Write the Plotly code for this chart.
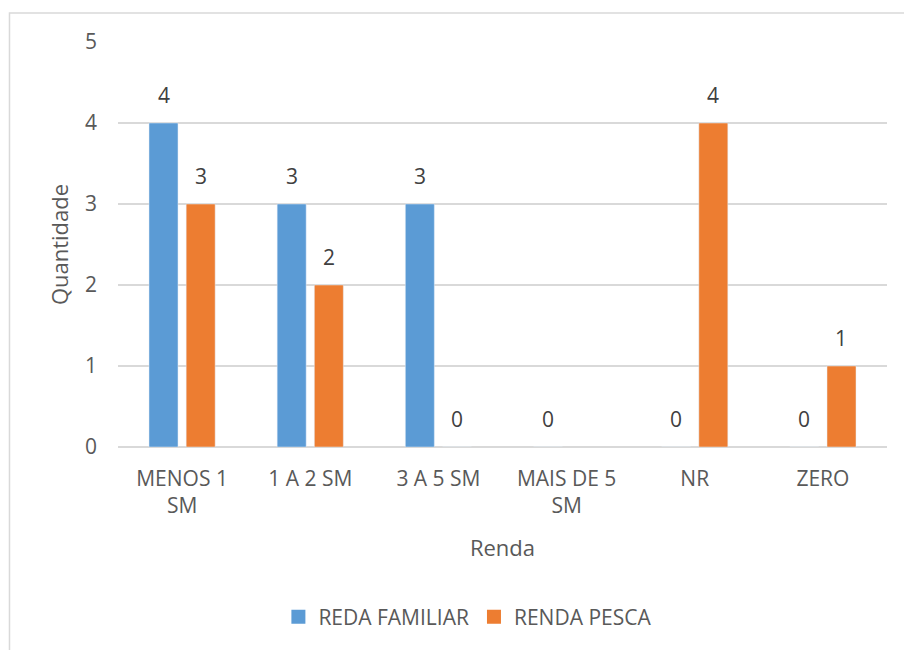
import plotly.graph_objects as go

categorias = ["MENOS 1<br>SM", "1 A 2 SM", "3 A 5 SM", "MAIS DE 5<br>SM", "NR", "ZERO"]
renda_familiar = [4, 3, 3, 0, 0, 0]
renda_pesca = [3, 2, 0, None, 4, 1]
series = [("REDA FAMILIAR", renda_familiar, "#5B9BD5"),
          ("RENDA PESCA", renda_pesca, "#ED7D31")]

TEXTO = "#595959"
ROTULO = "#404040"
GRADE = "#D9D9D9"
FONTE = "Open Sans"
TAM = 21

fig = go.Figure()
for nome, valores, cor in series:
    fig.add_trace(go.Bar(name=nome, x=categorias, y=valores, marker_color=cor,
                         showlegend=False))
# square legend keys
for nome, valores, cor in series:
    fig.add_trace(go.Scatter(name=nome, x=[None], y=[None], mode="markers",
                             marker=dict(symbol="square", size=14, color=cor),
                             showlegend=True))

# value labels above each bar, shifted onto their slot in the group
deslocamento = 18.5
for (nome, valores, cor), dx in zip(series, (-deslocamento, deslocamento)):
    for cat, v in zip(categorias, valores):
        if v is None:
            continue
        fig.add_annotation(x=cat, y=v, text=str(v), showarrow=False,
                           xshift=dx, yshift=12, yanchor="bottom",
                           font=dict(family=FONTE, size=TAM, color=ROTULO))

# light frame around the chart area
fig.add_shape(type="rect", xref="paper", yref="paper",
              x0=-0.1411, x1=1.2, y0=-0.7, y1=1.0713,
              line=dict(color=GRADE, width=1.5), fillcolor="rgba(0,0,0,0)",
              layer="below")

fig.update_layout(
    width=904, height=650,
    margin=dict(l=118, r=17, t=42, b=201),
    paper_bgcolor="white", plot_bgcolor="white",
    barmode="group", bargap=0.42, bargroupgap=0.22,
    font=dict(family=FONTE, size=TAM, color=TEXTO),
    legend=dict(orientation="h", x=0.455, xanchor="center", y=-0.42, yanchor="middle",
                font=dict(size=21, color=TEXTO), itemwidth=30,
                traceorder="normal"),
    xaxis=dict(title=dict(text="Renda", font=dict(size=22, color=TEXTO), standoff=22),
               showgrid=False, showline=False, ticks="", ticklabelstandoff=17,
               tickfont=dict(size=TAM, color=TEXTO)),
    yaxis=dict(title=dict(text="Quantidade", font=dict(size=22, color=TEXTO), standoff=10),
               range=[0, 5], dtick=1, showgrid=True, gridcolor=GRADE, gridwidth=1.5,
               zeroline=True, zerolinecolor=GRADE, zerolinewidth=2,
               showline=False, ticks="", ticklabelstandoff=20,
               tickfont=dict(size=TAM, color=TEXTO)),
)

fig.write_html("out.html")
